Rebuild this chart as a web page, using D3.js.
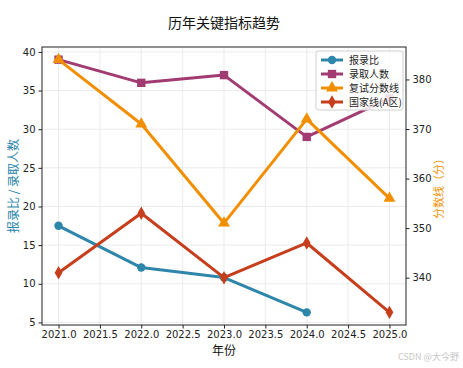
<!DOCTYPE html>
<html>
<head>
<meta charset="utf-8">
<script src="https://cdn.jsdelivr.net/npm/d3@7"></script>
<style>
  body { margin: 0; background: #fff; }
  svg { display: block; }
</style>
</head>
<body>
<svg id="chart" width="463" height="368"></svg>
<script>
// data
const years = [2021, 2022, 2023, 2024, 2025];
const ratio = [17.5, 12.1, 10.8, 6.3, null];       // 报录比
const admitted = [39, 36, 37, 29, 34];              // 录取人数
const retestLine = [384, 371, 351, 372, 356];       // 复试分数线
const nationalLine = [341, 353, 340, 347, 333];     // 国家线(A区)
const xTicks = [2021, 2021.5, 2022, 2022.5, 2023, 2023.5, 2024, 2024.5, 2025];
const leftTicks = [5, 10, 15, 20, 25, 30, 35, 40];
const rightTicks = [340, 350, 360, 370, 380];

const svg = d3.select("#chart");
const margin = { top: 47, right: 57, bottom: 43, left: 42 };
const W = 463, H = 368;
const x0 = margin.left, x1 = W - margin.right, y0 = H - margin.bottom, y1 = margin.top;

const font = "'DejaVu Sans', sans-serif";
const cjk = "'Noto Sans CJK SC', sans-serif";

// matplotlib-like 5% padding
function padded(vals) {
  const e = d3.extent(vals.filter(v => v != null));
  const r = e[1] - e[0];
  return [e[0] - 0.05 * r, e[1] + 0.05 * r];
}

const x = d3.scaleLinear().domain([2020.8, 2025.2]).range([x0, x1]);
const yL = d3.scaleLinear().domain(padded(ratio.concat(admitted))).range([y0, y1]);
const yR = d3.scaleLinear().domain(padded(retestLine.concat(nationalLine))).range([y0, y1]);

// grid
const grid = svg.append("g").attr("stroke", "#e6e6e6").attr("stroke-width", 0.8);
xTicks.forEach(t => grid.append("line").attr("x1", x(t)).attr("x2", x(t)).attr("y1", y1).attr("y2", y0));
leftTicks.forEach(t => grid.append("line").attr("x1", x0).attr("x2", x1).attr("y1", yL(t)).attr("y2", yL(t)));

// series
const series = [
  { name: "报录比", vals: ratio, y: yL, color: "#2E86AB", sym: d3.symbolCircle, size: 56 },
  { name: "录取人数", vals: admitted, y: yL, color: "#A23B72", sym: d3.symbolSquare, size: 70 },
  { name: "复试分数线", vals: retestLine, y: yR, color: "#F18F01", sym: d3.symbolTriangle, size: 62 },
  { name: "国家线(A区)", vals: nationalLine, y: yR, color: "#C73E1D", sym: d3.symbolDiamond, size: 52 }
];

series.forEach(s => {
  const pts = years.map((yr, i) => ({ yr, v: s.vals[i] }));
  const line = d3.line().defined(d => d.v != null).x(d => x(d.yr)).y(d => s.y(d.v));
  const g = svg.append("g");
  g.append("path").datum(pts).attr("d", line)
    .attr("fill", "none").attr("stroke", s.color).attr("stroke-width", 3)
    .attr("stroke-linejoin", "round");
  g.selectAll("path.m").data(pts.filter(d => d.v != null)).enter().append("path")
    .attr("class", "m")
    .attr("transform", d => `translate(${x(d.yr)},${s.y(d.v)})`)
    .attr("d", d3.symbol().type(s.sym).size(s.size))
    .attr("fill", s.color);
});

// axes
const ax = svg.append("g").attr("transform", `translate(0,${y0})`)
  .call(d3.axisBottom(x).tickValues(xTicks).tickFormat(d3.format(".1f")).tickSize(3.5).tickPadding(2));
const ayL = svg.append("g").attr("transform", `translate(${x0},0)`)
  .call(d3.axisLeft(yL).tickValues(leftTicks).tickSize(3.5));
const ayR = svg.append("g").attr("transform", `translate(${x1},0)`)
  .call(d3.axisRight(yR).tickValues(rightTicks).tickSize(3.5));
[ax, ayL, ayR].forEach(a => {
  a.select(".domain").remove();
  a.selectAll("text").attr("font-family", font).attr("font-size", 10).attr("fill", "#222");
  a.selectAll("line").attr("stroke", "#222");
});

svg.append("rect").attr("x", x0).attr("y", y1).attr("width", x1 - x0).attr("height", y0 - y1)
  .attr("fill", "none").attr("stroke", "#222").attr("stroke-width", 1);

// labels
svg.append("text").attr("x", (x0 + x1) / 2).attr("y", 28).attr("text-anchor", "middle")
  .attr("font-family", cjk).attr("font-size", 14).attr("fill", "#111").text("历年关键指标趋势");
svg.append("text").attr("x", (x0 + x1) / 2).attr("y", 355).attr("text-anchor", "middle")
  .attr("font-family", cjk).attr("font-size", 12).attr("fill", "#111").text("年份");
svg.append("text").attr("transform", `translate(18,${(y0 + y1) / 2}) rotate(-90)`)
  .attr("text-anchor", "middle").attr("font-family", cjk).attr("font-size", 12)
  .attr("fill", "#2E86AB").text("报录比 / 录取人数");
svg.append("text").attr("transform", `translate(443,${(y0 + y1) / 2}) rotate(-90)`)
  .attr("text-anchor", "middle").attr("font-family", cjk).attr("font-size", 11)
  .attr("fill", "#F18F01").text("分数线（分）");

// legend
const lg = svg.append("g").attr("transform", "translate(316,51)");
lg.append("rect").attr("width", 87).attr("height", 59).attr("rx", 2.5)
  .attr("fill", "rgba(255,255,255,0.85)").attr("stroke", "#d0d0d0");
series.forEach((s, i) => {
  const row = lg.append("g").attr("transform", `translate(0,${9 + i * 14})`);
  row.append("line").attr("x1", 5).attr("x2", 27).attr("stroke", s.color).attr("stroke-width", 3);
  row.append("path").attr("transform", "translate(16,0)")
    .attr("d", d3.symbol().type(s.sym).size(s.size)).attr("fill", s.color);
  row.append("text").attr("x", 33).attr("y", 4).attr("font-family", cjk).attr("font-size", 10)
    .attr("fill", "#222").text(s.name);
});

// watermark
svg.append("text").attr("x", 459).attr("y", 360).attr("text-anchor", "end")
  .attr("font-family", cjk).attr("font-size", 9).attr("fill", "#c8c8c8").text("CSDN @大今野");
</script>
</body>
</html>
